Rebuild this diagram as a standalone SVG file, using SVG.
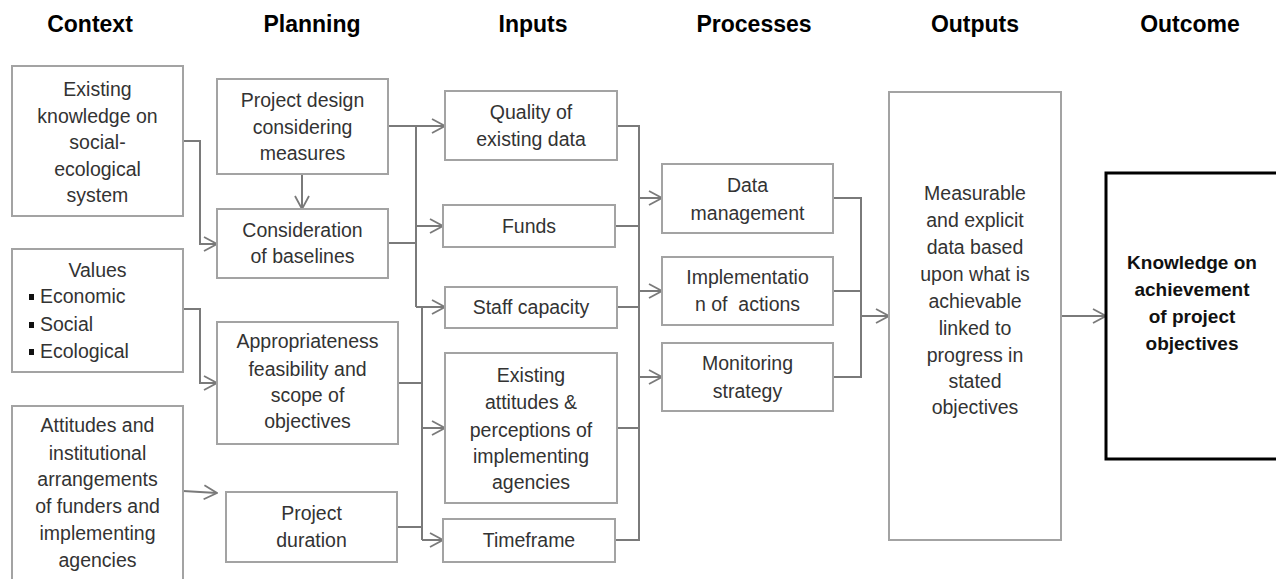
<svg xmlns="http://www.w3.org/2000/svg" width="1276" height="579" viewBox="0 0 1276 579">
<style>
.bg{fill:#ffffff}
.box{fill:#ffffff;stroke:#a3a3a3;stroke-width:2}
.obox{fill:#ffffff;stroke:#000000;stroke-width:3}
.t{font-family:"Liberation Sans",Arial,sans-serif;font-size:19.5px;fill:#333333;text-anchor:middle}
.tl{font-family:"Liberation Sans",Arial,sans-serif;font-size:19.5px;fill:#333333;text-anchor:start}
.tb{font-family:"Liberation Sans",Arial,sans-serif;font-size:19px;font-weight:bold;fill:#111111;text-anchor:middle}
.h{font-family:"Liberation Sans",Arial,sans-serif;font-size:23px;font-weight:bold;fill:#000000;text-anchor:middle}
.c{fill:none;stroke:#7a7a7a;stroke-width:2}
.a{fill:none;stroke:#7a7a7a;stroke-width:2;marker-end:url(#arr)}
</style>
<defs>
<marker id="arr" viewBox="0 0 16 16" refX="15" refY="8" markerWidth="16" markerHeight="16" markerUnits="userSpaceOnUse" orient="auto">
<path d="M2,1 L15,8 L2,15" fill="none" stroke="#7a7a7a" stroke-width="1.8"/>
</marker>
</defs>
<rect class="bg" x="0" y="0" width="1276" height="579"/>

<g id="headers">
<text class="h" x="90" y="32">Context</text>
<text class="h" x="312" y="32">Planning</text>
<text class="h" x="533" y="32">Inputs</text>
<text class="h" x="754" y="32">Processes</text>
<text class="h" x="975" y="32">Outputs</text>
<text class="h" x="1190" y="32">Outcome</text>
</g>

<g id="connectors">
<path class="a" d="M183,141 H200 V244 H217"/>
<path class="a" d="M183,309 H200 V383 H217"/>
<path class="a" d="M183,491 L217,493"/>
<path class="a" d="M302,174 V209"/>
<path class="c" d="M388,126 H416 V307"/>
<path class="c" d="M388,243 H416"/>
<path class="a" d="M416,126 H445"/>
<path class="a" d="M416,226 H443"/>
<path class="a" d="M416,307 H445"/>
<path class="c" d="M422,307 V540"/>
<path class="c" d="M398,383 H422"/>
<path class="c" d="M397,527 H422"/>
<path class="a" d="M422,428 H445"/>
<path class="a" d="M422,540 H443"/>
<path class="c" d="M617,126 H639 V540 H615"/>
<path class="c" d="M615,226 H639"/>
<path class="c" d="M617,307 H639"/>
<path class="c" d="M617,428 H639"/>
<path class="a" d="M639,198 H662"/>
<path class="a" d="M639,291 H662"/>
<path class="a" d="M639,377 H662"/>
<path class="c" d="M833,198 H861 V377 H833"/>
<path class="c" d="M833,291 H861"/>
<path class="a" d="M861,316 H889"/>
<path class="a" d="M1061,316 H1106"/>
</g>

<g id="ctx-knowledge">
<rect class="box" x="12" y="66" width="171" height="150"/>
<text class="t" x="97.5" y="96">Existing</text>
<text class="t" x="97.5" y="123">knowledge on</text>
<text class="t" x="97.5" y="149">social-</text>
<text class="t" x="97.5" y="176">ecological</text>
<text class="t" x="97.5" y="202">system</text>
</g>

<g id="ctx-values">
<rect class="box" x="12" y="249" width="171" height="123"/>
<text class="t" x="97.5" y="277">Values</text>
<rect x="29" y="294" width="5" height="6" fill="#111"/>
<text class="tl" x="40" y="303">Economic</text>
<rect x="29" y="322" width="5" height="6" fill="#111"/>
<text class="tl" x="40" y="331">Social</text>
<rect x="29" y="349" width="5" height="6" fill="#111"/>
<text class="tl" x="40" y="358">Ecological</text>
</g>

<g id="ctx-attitudes">
<rect class="box" x="12" y="406" width="171" height="190"/>
<text class="t" x="97.5" y="432">Attitudes and</text>
<text class="t" x="97.5" y="460">institutional</text>
<text class="t" x="97.5" y="486">arrangements</text>
<text class="t" x="97.5" y="513">of funders and</text>
<text class="t" x="97.5" y="540">implementing</text>
<text class="t" x="97.5" y="567">agencies</text>
</g>

<g id="plan-design">
<rect class="box" x="217" y="79" width="171" height="95"/>
<text class="t" x="302.5" y="107">Project design</text>
<text class="t" x="302.5" y="134">considering</text>
<text class="t" x="302.5" y="160">measures</text>
</g>

<g id="plan-baselines">
<rect class="box" x="217" y="209" width="171" height="69"/>
<text class="t" x="302.5" y="237">Consideration</text>
<text class="t" x="302.5" y="263">of baselines</text>
</g>

<g id="plan-objectives">
<rect class="box" x="217" y="322" width="181" height="122"/>
<text class="t" x="307.5" y="348">Appropriateness</text>
<text class="t" x="307.5" y="376">feasibility and</text>
<text class="t" x="307.5" y="402">scope of</text>
<text class="t" x="307.5" y="428">objectives</text>
</g>

<g id="plan-duration">
<rect class="box" x="226" y="492" width="171" height="70"/>
<text class="t" x="311.5" y="520">Project</text>
<text class="t" x="311.5" y="547">duration</text>
</g>

<g id="in-quality">
<rect class="box" x="445" y="91" width="172" height="69"/>
<text class="t" x="531" y="119">Quality of</text>
<text class="t" x="531" y="146">existing data</text>
</g>

<g id="in-funds">
<rect class="box" x="443" y="205" width="172" height="42"/>
<text class="t" x="529" y="233">Funds</text>
</g>

<g id="in-staff">
<rect class="box" x="445" y="287" width="172" height="41"/>
<text class="t" x="531" y="314">Staff capacity</text>
</g>

<g id="in-attitudes">
<rect class="box" x="445" y="353" width="172" height="150"/>
<text class="t" x="531" y="382">Existing</text>
<text class="t" x="531" y="409">attitudes &amp;</text>
<text class="t" x="531" y="437">perceptions of</text>
<text class="t" x="531" y="463">implementing</text>
<text class="t" x="531" y="489">agencies</text>
</g>

<g id="in-timeframe">
<rect class="box" x="443" y="519" width="172" height="43"/>
<text class="t" x="529" y="547">Timeframe</text>
</g>

<g id="proc-data">
<rect class="box" x="662" y="164" width="171" height="69"/>
<text class="t" x="747.5" y="192">Data</text>
<text class="t" x="747.5" y="220">management</text>
</g>

<g id="proc-impl">
<rect class="box" x="662" y="257" width="171" height="68"/>
<text class="t" x="747.5" y="284">Implementatio</text>
<text class="t" x="747.5" y="311" xml:space="preserve">n of  actions</text>
</g>

<g id="proc-monitor">
<rect class="box" x="662" y="343" width="171" height="68"/>
<text class="t" x="747.5" y="370">Monitoring</text>
<text class="t" x="747.5" y="398">strategy</text>
</g>

<g id="outputs">
<rect class="box" x="889" y="92" width="172" height="448"/>
<text class="t" x="975" y="200">Measurable</text>
<text class="t" x="975" y="227">and explicit</text>
<text class="t" x="975" y="254">data based</text>
<text class="t" x="975" y="281">upon what is</text>
<text class="t" x="975" y="308">achievable</text>
<text class="t" x="975" y="335">linked to</text>
<text class="t" x="975" y="362">progress in</text>
<text class="t" x="975" y="388">stated</text>
<text class="t" x="975" y="414">objectives</text>
</g>

<g id="outcome">
<rect class="obox" x="1106" y="173" width="172" height="286"/>
<text class="tb" x="1192" y="269">Knowledge on</text>
<text class="tb" x="1192" y="296">achievement</text>
<text class="tb" x="1192" y="323">of project</text>
<text class="tb" x="1192" y="350">objectives</text>
</g>
</svg>
